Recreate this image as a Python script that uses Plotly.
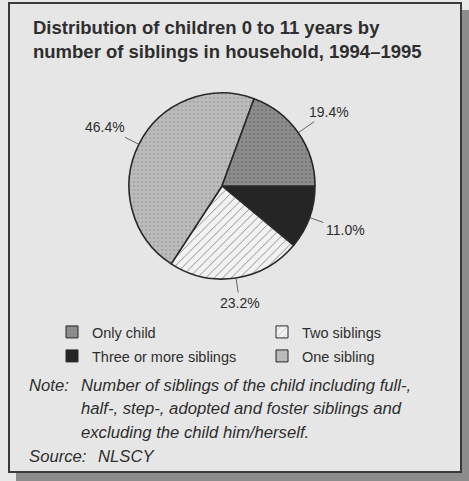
import math
import plotly.graph_objects as go

W, H = 469, 481

# ---- data ----
# slices listed clockwise from 3 o'clock
slice_labels = ["Three or more siblings", "Two siblings", "One sibling", "Only child"]
slice_values = [11.0, 23.2, 46.4, 19.4]
legend_labels = ["Only child", "Two siblings", "Three or more siblings", "One sibling"]

title_lines = ["Distribution of children 0 to 11 years by",
               "number of siblings in household, 1994\u20131995"]
note_label = "Note:"
note_lines = ["Number of siblings of the child including full-,",
              "half-, step-, adopted and foster siblings and",
              "excluding the child him/herself."]
source_label = "Source:"
source_text = "NLSCY"

# ---- styles ----
styles = {
    "Only child": dict(bg="#8e8e8e", fg="#7a7a7a", shape=".", size=4, sol=0.35),
    "One sibling": dict(bg="#bdbdbd", fg="#a8a8a8", shape=".", size=4, sol=0.35),
    "Two siblings": dict(bg="#f2f2f2", fg="#6a6a6a", shape="/", size=6, sol=0.12),
    "Three or more siblings": dict(bg="#252525", fg="#252525", shape="", size=6, sol=0.3),
}
FONT = "Liberation Sans, Arial, sans-serif"
TXT = "#2e2e2e"


def X(px):
    return px / W


def Y(py):
    return 1 - py / H


cx, cy, r = 222, 186, 93

fig = go.Figure()
fig.add_trace(go.Pie(
    labels=slice_labels, values=slice_values, sort=False,
    direction="clockwise", rotation=90,
    textinfo="none",
    marker=dict(
        colors=[styles[l]["bg"] for l in slice_labels],
        line=dict(color="#2a2a2a", width=1.6),
        pattern=dict(
            shape=[styles[l]["shape"] for l in slice_labels],
            bgcolor=[styles[l]["bg"] for l in slice_labels],
            fgcolor=[styles[l]["fg"] for l in slice_labels],
            size=[styles[l]["size"] for l in slice_labels],
            solidity=[styles[l]["sol"] for l in slice_labels],
        ),
    ),
    domain=dict(x=[X(cx - r), X(cx + r)], y=[Y(cy + r), Y(cy - r)]),
    showlegend=False, hoverinfo="label+percent",
))

legend_pos = {
    "Only child": (52, 316),
    "Two siblings": (262, 316),
    "Three or more siblings": (52, 340),
    "One sibling": (262, 340),
}
legend_layouts = {}
for i, l in enumerate(legend_labels):
    s = styles[l]
    key = "legend" if i == 0 else "legend%d" % (i + 1)
    fig.add_trace(go.Bar(
        x=[None], y=[None], name=l, legend=key,
        marker=dict(color=s["bg"], line=dict(color="#2a2a2a", width=1),
                    pattern=dict(shape=s["shape"], bgcolor=s["bg"], fgcolor=s["fg"],
                                 size=s["size"], solidity=s["sol"])),
    ))
    px_, py_ = legend_pos[l]
    legend_layouts[key] = dict(x=X(px_), y=Y(py_), xanchor="left", yanchor="top",
                               bgcolor="rgba(0,0,0,0)",
                               font=dict(family=FONT, size=14.5, color=TXT),
                               itemclick=False, itemdoubleclick=False)

shapes = [
    dict(type="rect", xref="paper", yref="paper", x0=X(461), x1=X(469), y0=Y(481), y1=Y(10),
         fillcolor="#8c8c8c", line=dict(width=0), layer="below"),
    dict(type="rect", xref="paper", yref="paper", x0=X(16), x1=X(469), y0=Y(481), y1=Y(472),
         fillcolor="#8c8c8c", line=dict(width=0), layer="below"),
    dict(type="rect", xref="paper", yref="paper", x0=X(9), x1=X(461), y0=Y(472), y1=Y(3),
         fillcolor="#e6e6e6", line=dict(color="#3a3a3a", width=2), layer="below"),
]

annotations = []
# percentage labels with short leader lines, placed from each slice's mid angle
total = sum(slice_values)
start = 0.0
for v in slice_values:
    mid = math.radians(start - 0.5 * v / total * 360.0)
    start -= v / total * 360.0
    c, s_ = math.cos(mid), math.sin(mid)
    ext = 22 * abs(c) + 7 * abs(s_)
    d = r + 15 + ext
    ex, ey = cx + r * c, cy - r * s_
    tx, ty = cx + d * c, cy - d * s_
    annotations.append(dict(text="%.1f%%" % v, x=X(ex), y=Y(ey), xref="paper", yref="paper",
                            ax=tx - ex, ay=ty - ey, axref="pixel", ayref="pixel",
                            showarrow=True, arrowhead=0, arrowwidth=0.8, arrowcolor="#444",
                            standoff=0, startstandoff=1,
                            font=dict(family=FONT, size=14, color=TXT)))

for i, t in enumerate(title_lines):
    annotations.append(dict(text="<b>%s</b>" % t, x=X(31), y=Y(27 + 24.5 * i), xref="paper", yref="paper",
                            xanchor="left", yanchor="middle", showarrow=False,
                            font=dict(family=FONT, size=18.5, color=TXT)))
NF = dict(family=FONT, size=16.7, color=TXT)
annotations.append(dict(text="<i>%s</i>" % note_label, x=X(27), y=Y(385), xref="paper", yref="paper",
                        xanchor="left", yanchor="middle", showarrow=False, font=NF))
for i, t in enumerate(note_lines):
    annotations.append(dict(text="<i>%s</i>" % t, x=X(79), y=Y(385 + 23.7 * i), xref="paper", yref="paper",
                            xanchor="left", yanchor="middle", showarrow=False, font=NF))
annotations.append(dict(text="<i>%s</i>" % source_label, x=X(27), y=Y(456), xref="paper", yref="paper",
                        xanchor="left", yanchor="middle", showarrow=False, font=NF))
annotations.append(dict(text="<i>%s</i>" % source_text, x=X(96), y=Y(456), xref="paper", yref="paper",
                        xanchor="left", yanchor="middle", showarrow=False, font=NF))

fig.update_layout(
    width=W, height=H, margin=dict(l=0, r=0, t=0, b=0),
    paper_bgcolor="#e8e8e8", plot_bgcolor="rgba(0,0,0,0)",
    xaxis=dict(visible=False, domain=[0, 0.01]),
    yaxis=dict(visible=False, domain=[0, 0.01]),
    shapes=shapes, annotations=annotations,
    font=dict(family=FONT, color=TXT),
    **legend_layouts,
)

fig.write_html("out.html")
